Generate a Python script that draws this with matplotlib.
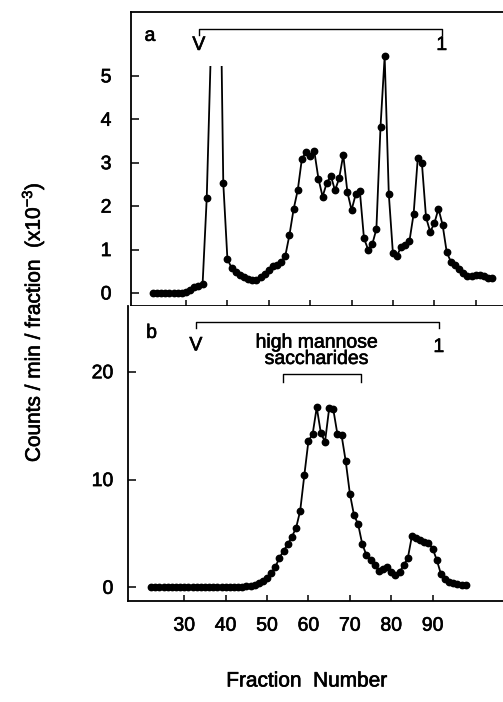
import numpy as np
import matplotlib
matplotlib.use("Agg")
import matplotlib.pyplot as plt
import matplotlib.patheffects as pe
from matplotlib.path import Path

plt.rcParams['font.family'] = ['Liberation Sans', 'DejaVu Sans']
plt.rcParams['mathtext.default'] = 'regular'

# panel a: counts/min/fraction (x10^-3), one value per fraction starting at 22
counts_a = [0, 0, 0, 0, 0, 0, 0, 0.01, 0.03, 0.07, 0.13, 0.17, 0.2,
            2.18, 5.6, 12.0, 9.5,              # void peak, runs off the top
            2.53, 0.78, 0.58, 0.49, 0.41, 0.36, 0.32, 0.30, 0.29, 0.36,
            0.44, 0.53, 0.62, 0.65, 0.71, 0.86, 1.34, 1.93, 2.37, 3.09,
            3.24, 3.16, 3.26, 2.63, 2.22, 2.53, 2.70, 2.36, 2.64, 3.18,
            2.32, 1.91, 2.27, 2.35, 1.26, 1.00, 1.12, 1.47, 3.83, 5.45,
            2.28, 0.91, 0.86, 1.07, 1.10, 1.20, 1.82, 3.10, 2.99, 1.74,
            1.41, 1.60, 1.94, 1.57, 0.94, 0.72, 0.65, 0.55, 0.45, 0.40,
            0.40, 0.41, 0.41, 0.38, 0.35, 0.35]
fractions_a = np.arange(22, 22 + len(counts_a))

# panel b
counts_b = [0] * 19 + [0.01, 0.02, 0.03, 0.05, 0.08, 0.12, 0.2, 0.37, 0.6,
            0.9, 1.3, 1.9, 2.75, 3.4, 4.0, 4.7, 5.5, 7.1, 10.4, 13.6, 14.2,
            16.7, 14.3, 13.5, 16.6, 16.5, 14.2, 14.1, 11.7, 8.7, 6.7, 5.85,
            4.0, 3.0, 2.5, 2.07, 1.55, 1.7, 1.9, 1.45, 1.15, 1.4, 2.07, 2.7,
            4.77, 4.6, 4.4, 4.24, 4.1, 3.6, 2.54, 1.24, 0.77, 0.53, 0.37,
            0.28, 0.22, 0.22]
fractions_b = np.arange(22, 22 + len(counts_b))

yticks_a = [0, 1, 2, 3, 4, 5]
yticks_b = [0, 10, 20]
xticks_a = [30, 40, 50, 60, 70, 80, 90, 100]
xticks_b = [30, 40, 50, 60, 70, 80, 90]

W, H = 503, 702
FS = 14
heavy = [pe.withStroke(linewidth=0.45, foreground='black')]

fig = plt.figure(figsize=(W / 100, H / 100), dpi=100)

ax_a = fig.add_axes([131 / W, 1 - 306 / H, (W - 131) / W, 294 / H])
ax_b = fig.add_axes([128 / W, 1 - 601 / H, (W - 128) / W, 295 / H])

line_kw = dict(color='black', lw=1.3, marker='o', ms=4.6, mfc='black', mec='black')

la, = ax_a.plot(fractions_a, counts_a, **line_kw)
# the void peak is cut off just under the V marker
cut = 5.23
clip = Path([(0, -5), (120, -5), (120, 10), (39, 10), (39, cut),
             (35, cut), (35, 10), (0, 10), (0, -5)])
la.set_clip_path(clip, ax_a.transData)

ax_b.plot(fractions_b, counts_b, **line_kw)

ax_a.set_xlim(16.7, 106.6)
ax_a.set_ylim(-0.30, 6.47)
ax_b.set_xlim(16.4, 107.0)
ax_b.set_ylim(-1.27, 26.1)

for ax in (ax_a, ax_b):
    ax.spines['right'].set_visible(False)
    for s in ax.spines.values():
        s.set_linewidth(1.3)
    ax.tick_params(direction='in', width=1.1, labelsize=FS)
ax_b.spines['top'].set_visible(False)

ax_a.set_yticks(yticks_a)
ax_a.set_xticks(xticks_a)
ax_a.tick_params(axis='x', length=4.5, labelbottom=False)
ax_a.tick_params(axis='y', length=6, pad=14)

ax_b.set_yticks(yticks_b)
ax_b.set_xticks(xticks_b)
ax_b.tick_params(axis='x', length=4.5, pad=12)
ax_b.tick_params(axis='y', length=6, pad=10.5)

for ax in (ax_a, ax_b):
    for lab in ax.get_xticklabels() + ax.get_yticklabels():
        lab.set_path_effects(heavy)

# V ... 1 brackets
ax_a.plot([33.1, 33.1, 91.8, 91.8], [5.95, 6.08, 6.08, 5.95], color='black', lw=1.0)
ax_a.text(33.1, 5.70, 'V', ha='center', va='center', fontsize=FS, path_effects=heavy)
ax_a.text(91.8, 5.70, '1', ha='center', va='center', fontsize=FS, path_effects=heavy)
ax_a.text(21.3, 5.91, 'a', ha='center', va='center', fontsize=FS, path_effects=heavy)

ax_b.plot([32.8, 32.8, 91.5, 91.5], [24.03, 24.64, 24.64, 24.03], color='black', lw=1.0)
ax_b.text(32.8, 22.4, 'V', ha='center', va='center', fontsize=FS, path_effects=heavy)
ax_b.text(91.5, 22.25, '1', ha='center', va='center', fontsize=FS, path_effects=heavy)
ax_b.text(22.1, 23.56, 'b', ha='center', va='center', fontsize=FS, path_effects=heavy)
ax_b.text(62.1, 21.9, 'high mannose\nsaccharides', ha='center', va='center',
          fontsize=FS, linespacing=0.95, path_effects=heavy)
ax_b.plot([53.8, 53.8, 72.6, 72.6], [19.07, 19.79, 19.79, 19.07], color='black', lw=1.0)

fig.text(33 / W, 1 - 322 / H, 'Counts / min / fraction  (x10$^{-3}$)',
         rotation=90, ha='center', va='center', fontsize=15, path_effects=heavy)
fig.text(307 / W, 1 - 681 / H, 'Fraction  Number', ha='center', va='center',
         fontsize=15, path_effects=heavy)

fig.savefig('out.png', dpi=100)
